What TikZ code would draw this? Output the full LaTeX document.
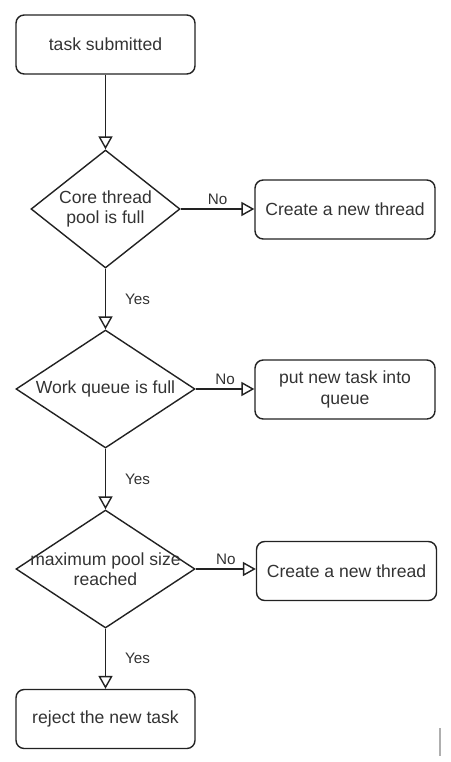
\documentclass[tikz,border=0pt]{standalone}
\usepackage{fontspec}
\setmainfont{Liberation Sans}
\usepackage{tikz}
\usepackage{xcolor}
\definecolor{base03}{RGB}{34,34,34}
\definecolor{txtgray}{RGB}{51,51,51}
\definecolor{mark}{RGB}{175,175,175}
\usetikzlibrary{shapes,arrows.meta}

\begin{document}
\begin{tikzpicture}[x=0.03cm,y=-0.03cm,>={Triangle[open,length=11pt,width=12pt]},
        every node/.style={font=\fontsize{15}{17.5}\selectfont,text=txtgray},
        box/.style={draw=base03,line width=1.2pt,rounded corners=7pt,minimum width=5.37cm,minimum height=1.77cm,align=center},
        cond/.style={diamond,draw=base03,line width=1.2pt,minimum width=5.37cm,minimum height=3.54cm,inner sep=0pt},
        lbl/.style={font=\fontsize{13}{15}\selectfont}]
        \useasboundingbox (0,0) rectangle (450,762);
        \node[box] (submit) at (105.5,44.5) {task submitted};
        \node[cond,minimum width=4.47cm,label={[align=center]center:Core thread\\pool is full}] (core) at (105.5,209) {};
        \node[box,minimum width=5.4cm] (newA) at (345,209.5) {Create a new thread};
        \node[cond,label={center:Work queue is full}] (queue) at (105.5,389) {};
        \node[box,minimum width=5.4cm] (put) at (345,389.5) {put new task into\\queue};
        \node[cond,label={[align=center]center:maximum pool size\\reached}] (max) at (105.5,569) {};
        \node[box,minimum width=5.4cm] (newB) at (346.5,571) {Create a new thread};
        \node[box] (reject) at (105.5,719) {reject the new task};
        \draw[draw=base03,->,line width=1.2pt] (submit) to (core);
        \draw[draw=base03,->,line width=1.2pt] (core.east) to node[lbl,above]{No} (core.east -| newA.west);
        \draw[draw=base03,->,line width=1.2pt] (core) to node[lbl,right=0.45cm]{Yes} (queue);
        \draw[draw=base03,->,line width=1.2pt] (queue.east) to node[lbl,above]{No} (queue.east -| put.west);
        \draw[draw=base03,->,line width=1.2pt] (queue) to node[lbl,right=0.45cm]{Yes} (max);
        \draw[draw=base03,->,line width=1.2pt] (max.east) to node[lbl,above]{No} (max.east -| newB.west);
        \draw[draw=base03,->,line width=1.2pt] (max) to node[lbl,right=0.45cm]{Yes} (reject);
        \draw[draw=mark,line width=2pt] (440,728) -- (440,756);
    \end{tikzpicture}
\end{document}
